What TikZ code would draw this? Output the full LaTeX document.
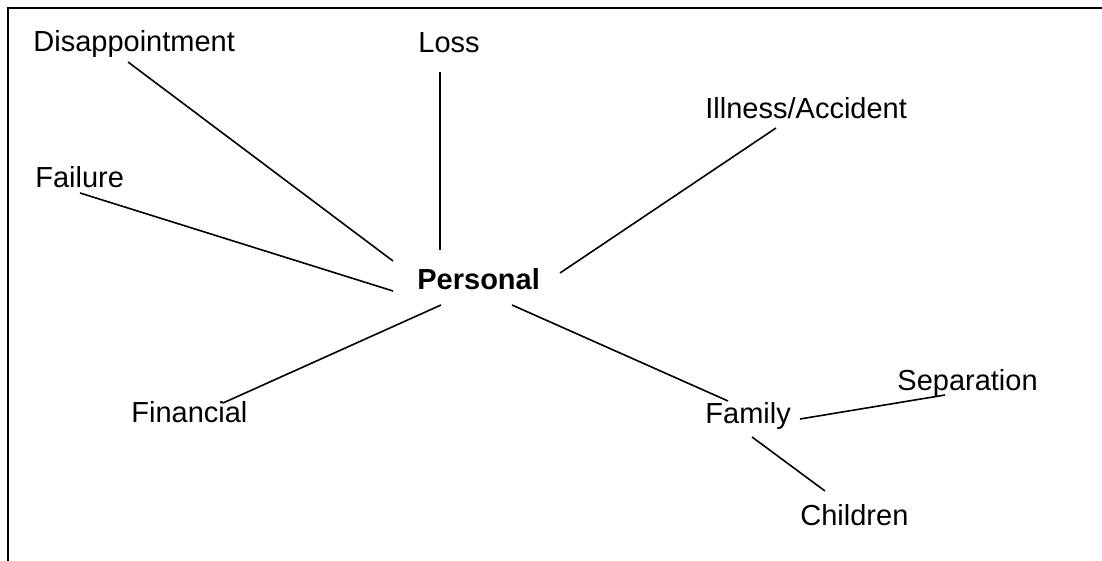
\documentclass[tikz,border=0pt]{standalone}
\usepackage{fontspec}
\setmainfont{Liberation Sans}
\usepackage{tikz}
\usetikzlibrary{calc}

\begin{document}
\begin{tikzpicture}[x=0.5pt, y=-0.5pt]
    \tikzstyle{word}=[anchor=base west, inner sep=0pt, font=\fontsize{14.5}{17}\selectfont]
    \tikzstyle{link}=[draw, line width=0.8pt]

    \useasboundingbox (0, 0) rectangle (1102, 561);
    \draw[line width=1.2pt] (8, 561) -- (8, 8) -- (1102, 8);

    \node[word, font=\fontsize{14.5}{17}\selectfont\bfseries] (personal) at (417, 289) {Personal};

    \node[word] (disappointment) at (33, 52) {Disappointment};
    \node[word] (loss) at (418, 53) {Loss};
    \node[word] (illness) at (705, 119) {Illness/Accident};
    \node[word] (failure) at (35, 188) {Failure};
    \node[word] (financial) at (131, 422) {Financial};
    \node[word] (family) at (705, 423) {Family};
    \node[word] (separation) at (897, 390) {Separation};
    \node[word] (children) at (800, 525) {Children};

    \path[link] ([shift={(95, 10)}]disappointment.base west) -- ([shift={(-24, -28)}]personal.base west);
    \path[link] ([shift={(22, 19)}]loss.base west) -- ([shift={(23, -39)}]personal.base west);
    \path[link] ([shift={(71, 9)}]illness.base west) -- ([shift={(143, -16)}]personal.base west);
    \path[link] ([shift={(45, 5)}]failure.base west) -- ([shift={(-24, 2)}]personal.base west);
    \path[link] ([shift={(92, -19)}]financial.base west) -- ([shift={(24, 16)}]personal.base west);
    \path[link] ([shift={(23, -22)}]family.base west) -- ([shift={(95, 16)}]personal.base west);

    \path[link] ([shift={(95, -4)}]family.base west) -- ([shift={(48, 5)}]separation.base west);
    \path[link] ([shift={(47, 14)}]family.base west) -- ([shift={(25, -34)}]children.base west);
\end{tikzpicture}
\end{document}
